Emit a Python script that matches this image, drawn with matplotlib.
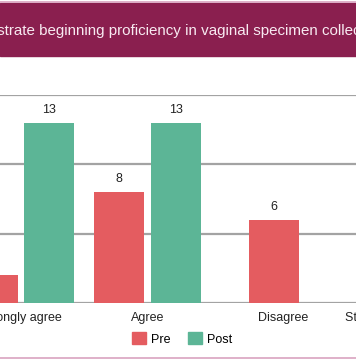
import numpy as np
import matplotlib.pyplot as plt
from matplotlib.patches import Rectangle, Patch
from matplotlib.lines import Line2D

plt.rcParams['font.family'] = ['Liberation Sans', 'DejaVu Sans']

categories = ["Strongly agree", "Agree", "Disagree", "Strongly disagree"]
pre = [2, 8, 6, 0]
post = [13, 13, 0, 0]
title = "demonstrate beginning proficiency in vaginal specimen collection"

red = '#e45c60'
green = '#5cb596'
maroon = '#8a1f4f'
grid = '#a3a3a3'

W, H = 356, 364
fig = plt.figure(figsize=(W / 100, H / 100), dpi=100)

# banner on top
fig.patches.append(Rectangle((0, 1 - 56 / H), 1, 53 / H, transform=fig.transFigure,
                             color=maroon, zorder=0))
fig.lines.append(Line2D([0, 1], [1 - 1.5 / H] * 2, transform=fig.transFigure,
                        color='#d9a3c0', lw=1.2))
fig.text(-49 / W, 1 - 31 / H, title, color='#f8eaf1', fontsize=10.9,
         ha='left', va='center')

ax = fig.add_axes([0, 1 - 303 / H, 1, 208 / H])
step = 126.5

w = 0.395
off = 0.225
x = np.arange(len(categories))
for i in range(len(categories)):
    vals = [(pre[i], red), (post[i], green)]
    shown = [v for v in vals if v[0] > 0]
    if len(shown) == 2:
        pos = [x[i] - off, x[i] + off]
    else:
        pos = [x[i]]
    for p, (v, c) in zip(pos, shown):
        ax.bar(p, v, width=w, color=c, zorder=2)
        ax.text(p, v + 0.5, str(v), ha='center', va='bottom', fontsize=9, color='#222222')

ax.set_yticks([0, 5, 10, 15])
ax.yaxis.grid(True, color=grid, lw=1.6)
ax.set_axisbelow(True)
for s in ax.spines.values():
    s.set_visible(False)
ax.tick_params(left=False, labelleft=False, bottom=False)
ax.set_xticks([])
ax.set_ylim(0, 15)
ax.set_xlim(-21 / step, -21 / step + W / step)

# category labels (drawn as texts so the cropped ones still show)
label_x = [0, 1, 2.07, 2.95]
for lx, name in zip(label_x, categories):
    ax.text(lx, -0.045, name, transform=ax.get_xaxis_transform(), ha='center', va='top',
            fontsize=9, color='#222222', clip_on=False)

handles = [Patch(color=red, label='Pre'), Patch(color=green, label='Post')]
fig.legend(handles=handles, loc='center', bbox_to_anchor=(182 / W, 1 - 339 / H), ncol=2,
           frameon=False, fontsize=9, handlelength=1.1, handleheight=1.1,
           handletextpad=0.4, columnspacing=1.4)

fig.lines.append(Line2D([0, 1], [1 - 358 / H] * 2, transform=fig.transFigure,
                        color='#d9a3c0', lw=1.2))

fig.savefig('out.png', dpi=100)
